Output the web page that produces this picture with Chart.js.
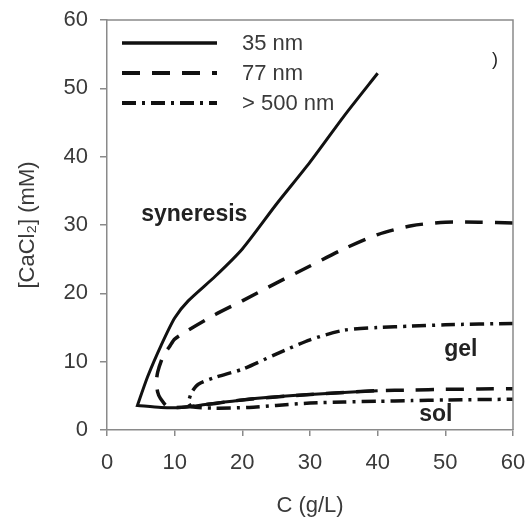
<!DOCTYPE html>
<html>
<head>
<meta charset="utf-8">
<script src="https://cdn.jsdelivr.net/npm/chart.js@4"></script>
<style>
html,body{margin:0;padding:0;background:#fff;}
canvas{display:block;}
</style>
</head>
<body>
<canvas id="c" width="530" height="521"></canvas>
<script>
// ---- data (C in g/L, [CaCl2] in mM), each curve traced as one path ----
const xTicks = [0, 10, 20, 30, 40, 50, 60];
const yTicks = [0, 10, 20, 30, 40, 50, 60];

const labels = ['35 nm', '77 nm', '> 500 nm'];

const c35  = [40, 35, 30, 25, 20, 16, 12, 10, 8, 6, 4.5, 4.5, 8, 11, 15, 20, 25, 30, 35, 40];
const ca35 = [52.2, 45.9, 39.2, 33.0, 26.5, 22.5, 18.9, 16.4, 12.4, 7.8, 3.6, 3.6, 3.3, 3.3, 3.8, 4.4, 4.85, 5.2, 5.5, 5.75];

const c77  = [60, 55, 50, 45, 40, 35, 30, 25, 20, 16, 12, 10, 9.3, 8.3, 7.5, 7.3, 7.5, 7.9, 9, 12, 20, 30, 40, 45, 50, 55, 60];
const ca77 = [30.3, 30.4, 30.4, 29.9, 28.6, 26.5, 24.0, 21.5, 18.9, 16.9, 14.6, 13.3, 12.3, 10.8, 8.5, 7.0, 5.5, 4.6, 3.4, 3.4, 4.4, 5.2, 5.75, 5.85, 5.95, 6.0, 6.05];

const c500  = [60, 50, 45, 40, 35, 30, 25, 20, 16, 13.5, 12.5, 12, 12, 12.5, 16, 21, 25, 30, 35, 40, 45, 50, 60];
const ca500 = [15.6, 15.4, 15.2, 15.0, 14.6, 13.2, 11.1, 8.9, 7.7, 6.7, 5.5, 4.0, 4.0, 3.4, 3.2, 3.3, 3.6, 3.95, 4.1, 4.2, 4.3, 4.4, 4.5];

const regionText = ['syneresis', 'gel', 'sol'];
const regionC    = [12.9, 52.3, 48.6];
const regionCa   = [31.5, 11.7, 2.2];

const pts = (xs, ys) => xs.map((x, i) => ({x: x, y: ys[i]}));

const FONT = "'Liberation Sans', Arial, sans-serif";
const TXT = '#3a3a3a';
const AX = '#8a8a8a';

const frameAndText = {
  id: 'frameAndText',
  afterDatasetsDraw(chart) {
    const {ctx, chartArea: a, scales: {x, y}} = chart;
    ctx.save();
    // top/right frame
    ctx.strokeStyle = AX; ctx.lineWidth = 1.5;
    ctx.beginPath();
    ctx.moveTo(a.left, a.top); ctx.lineTo(a.right, a.top); ctx.lineTo(a.right, a.bottom);
    ctx.stroke();
    // region labels
    ctx.fillStyle = '#222';
    ctx.font = 'bold 23px ' + FONT;
    ctx.textAlign = 'center'; ctx.textBaseline = 'middle';
    regionText.forEach((t, i) => ctx.fillText(t, x.getPixelForValue(regionC[i]), y.getPixelForValue(regionCa[i])));
    // stray parenthesis in the original
    ctx.font = '18px ' + FONT;
    ctx.fillStyle = '#222';
    ctx.fillText(')', a.left + 388, a.top + 40);
    // legend
    ctx.font = '22px ' + FONT;
    ctx.textAlign = 'left';
    chart.data.datasets.forEach((ds, i) => {
      const ly = a.top + 23 + i * 30;
      ctx.strokeStyle = ds.borderColor;
      ctx.lineWidth = ds.borderWidth + 0.5;
      ctx.setLineDash(ds.borderDash || []);
      ctx.beginPath();
      ctx.moveTo(a.left + 15, ly); ctx.lineTo(a.left + 110, ly);
      ctx.stroke();
      ctx.setLineDash([]);
      ctx.fillStyle = TXT;
      ctx.fillText(ds.label, a.left + 135, ly + 1);
    });
    ctx.restore();
  }
};

new Chart(document.getElementById('c'), {
  type: 'line',
  data: {
    datasets: [
      {label: labels[0], data: pts(c35, ca35), borderColor: '#111', borderWidth: 3, borderDash: [], tension: 0.25},
      {label: labels[1], data: pts(c77, ca77), borderColor: '#111', borderWidth: 3.5, borderDash: [18, 12], tension: 0.25},
      {label: labels[2], data: pts(c500, ca500), borderColor: '#111', borderWidth: 3.5, borderDash: [14, 6, 3, 6], tension: 0.25}
    ]
  },
  options: {
    responsive: false,
    animation: false,
    parsing: false,
    elements: {point: {radius: 0}, line: {borderCapStyle: 'butt'}},
    layout: {padding: {top: 20, right: 17, left: 0, bottom: 0}},
    plugins: {legend: {display: false}, tooltip: {enabled: false}},
    scales: {
      x: {
        type: 'linear', min: 0, max: 60,
        afterBuildTicks: s => { s.ticks = xTicks.map(v => ({value: v})); },
        afterFit: s => { s.height = 91; s.paddingLeft = 0; s.paddingRight = 0; },
        grid: {display: true, drawOnChartArea: false, drawTicks: true, tickLength: 6, color: AX, lineWidth: 1.5},
        border: {display: true, color: AX, width: 1.5},
        ticks: {padding: 14, color: TXT, font: {family: FONT, size: 22}},
        title: {display: true, text: 'C (g/L)', color: TXT, font: {family: FONT, size: 22}, padding: {top: 0, bottom: 2}}
      },
      y: {
        type: 'linear', min: 0, max: 60,
        afterBuildTicks: s => { s.ticks = yTicks.map(v => ({value: v})); },
        afterFit: s => { s.width = 107; s.paddingTop = 0; s.paddingBottom = 0; },
        grid: {display: true, drawOnChartArea: false, drawTicks: true, tickLength: 7, color: AX, lineWidth: 1.5},
        border: {display: true, color: AX, width: 1.5},
        ticks: {padding: 12, color: TXT, font: {family: FONT, size: 22}},
        title: {display: true, text: '[CaCl\u2082] (mM)', color: TXT, font: {family: FONT, size: 22}, padding: {top: 15, bottom: 0}}
      }
    }
  },
  plugins: [frameAndText]
});
</script>
</body>
</html>
